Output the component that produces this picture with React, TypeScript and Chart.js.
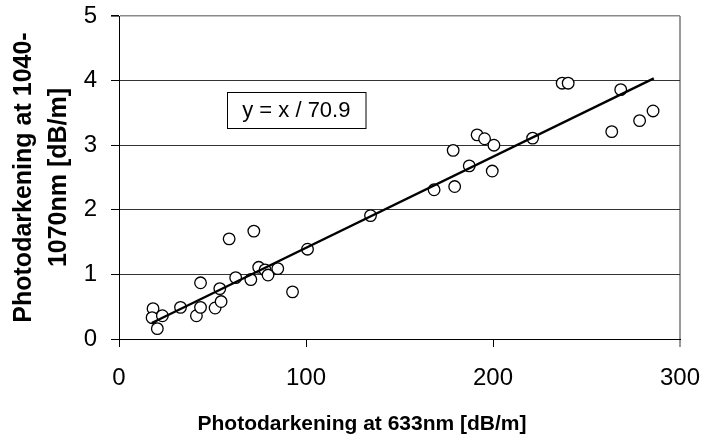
import React, { useEffect, useRef } from "react";
import { Chart, registerables } from "chart.js";

Chart.register(...registerables);

// Measured data: photodarkening at 633nm (x) vs 1040-1070nm (y), dB/m
const xValues = [
  18.2, 17.7, 23.2, 20.5, 32.9, 41.4, 43.6, 43.6, 51.4, 53.9, 54.6, 58.9, 62.4,
  70.5, 72.1, 74.7, 78.1, 79.7, 84.9, 92.8, 100.8, 134.5, 168.5, 179.5, 178.7,
  187.3, 191.5, 195.5, 200.5, 199.6, 221.2, 237.0, 240.2, 263.5, 268.3, 278.4,
  285.6,
];
const yValues = [
  0.47, 0.33, 0.36, 0.16, 0.49, 0.36, 0.87, 0.49, 0.48, 0.78, 0.58, 1.55, 0.95,
  0.92, 1.67, 1.11, 1.07, 0.99, 1.09, 0.73, 1.39, 1.91, 2.31, 2.36, 2.92, 2.68,
  3.16, 3.1, 3.0, 2.6, 3.11, 3.96, 3.96, 3.21, 3.86, 3.38, 3.53,
];
// Trendline endpoints (y = x / 70.9)
const fitX = [17.5, 286];
const fitY = [0.247, 4.034];

const xTicks = [0, 100, 200, 300];
const yTicks = [0, 1, 2, 3, 4, 5];

const xTitle = "Photodarkening at 633nm [dB/m]";
const yTitle = ["Photodarkening at 1040-", "1070nm [dB/m]"];
const equationText = "y = x / 70.9";

const FONT = "'Liberation Sans', Arial, Helvetica, sans-serif";

export default function App() {
  const canvasRef = useRef<HTMLCanvasElement | null>(null);

  useEffect(() => {
    document.body.style.margin = "0";
    const canvas = canvasRef.current;
    if (!canvas) return;

    const overlay = {
      id: "overlay",
      afterDraw(chart: any) {
        const ctx = chart.ctx;
        const xs = chart.scales.x;
        const ys = chart.scales.y;
        ctx.save();
        // equation box
        const bx = xs.getPixelForValue(57.8);
        const by = ys.getPixelForValue(3.82);
        const bw = 138.5;
        const bh = 36;
        ctx.fillStyle = "#ffffff";
        ctx.fillRect(Math.round(bx) + 0.5, Math.round(by) + 0.5, bw, bh);
        ctx.strokeStyle = "#000000";
        ctx.lineWidth = 1;
        ctx.strokeRect(Math.round(bx) + 0.5, Math.round(by) + 0.5, bw, bh);
        ctx.fillStyle = "#000000";
        ctx.font = `22px ${FONT}`;
        ctx.textAlign = "center";
        ctx.textBaseline = "middle";
        ctx.fillText(equationText, bx + bw / 2, by + bh / 2 + 1);
        // x axis title
        ctx.font = `bold 21px ${FONT}`;
        ctx.textAlign = "center";
        ctx.textBaseline = "alphabetic";
        ctx.fillText(xTitle, 362, 430);
        ctx.restore();
      },
    };

    const chart = new Chart(canvas, {
      type: "scatter",
      data: {
        datasets: [
          {
            type: "line",
            label: "fit",
            data: fitX.map((x, i) => ({ x, y: fitY[i] })),
            borderColor: "#000000",
            borderWidth: 2.3,
            pointRadius: 0,
            fill: false,
            order: 0,
          } as any,
          {
            label: "data",
            data: xValues.map((x, i) => ({ x, y: yValues[i] })),
            pointRadius: 5.8,
            pointBorderWidth: 1.3,
            borderColor: "#000000",
            backgroundColor: "#ffffff",
            pointBackgroundColor: "#ffffff",
            pointBorderColor: "#000000",
            order: 1,
          },
        ],
      },
      options: {
        responsive: false,
        animation: false,
        layout: { padding: { top: 16, right: 24, left: 0, bottom: 0 } },
        plugins: {
          legend: { display: false },
          tooltip: { enabled: false },
        },
        scales: {
          x: {
            type: "linear",
            min: 0,
            max: 300,
            afterBuildTicks: (scale: any) => {
              scale.ticks = xTicks.map((v) => ({ value: v }));
            },
            afterFit: (scale: any) => {
              scale.height = 99;
              scale.paddingLeft = 0;
              scale.paddingRight = 0;
            },
            ticks: {
              color: "#000000",
              font: { family: FONT, size: 24 },
              padding: 17,
              maxRotation: 0,
            },
            grid: {
              color: (c: any) =>
                c.tick && c.tick.value === 300 ? "#999999" : "rgba(0,0,0,0)",
              tickColor: (c: any) =>
                c.tick && c.tick.value === 300 ? "#999999" : "#000000",
              lineWidth: (c: any) => (c.tick && c.tick.value === 300 ? 2 : 1),
              tickLength: 8,
            },
            border: { display: true, color: "#000000", width: 1 },
          },
          y: {
            type: "linear",
            min: 0,
            max: 5,
            afterBuildTicks: (scale: any) => {
              scale.ticks = yTicks.map((v) => ({ value: v }));
            },
            afterFit: (scale: any) => {
              scale.width = 119;
              scale.paddingTop = 0;
              scale.paddingBottom = 0;
            },
            ticks: {
              color: "#000000",
              font: { family: FONT, size: 24 },
              padding: 14,
            },
            grid: {
              color: (c: any) =>
                c.tick && c.tick.value === 5 ? "#8a8a8a" : "#333333",
              tickColor: "#000000",
              lineWidth: (c: any) => (c.tick && c.tick.value === 5 ? 1.6 : 1),
              tickLength: 8,
            },
            border: { display: true, color: "#000000", width: 1 },
            title: {
              display: true,
              text: yTitle,
              color: "#000000",
              font: { family: FONT, size: 25, weight: "bold", lineHeight: 1.4 },
              padding: { top: 6.5, bottom: 0 },
            },
          },
        },
      },
      plugins: [overlay],
    } as any);

    return () => {
      chart.destroy();
    };
  }, []);

  return (
    <div style={{ position: "fixed", left: 0, top: 0, width: 704, height: 438, background: "#ffffff" }}>
      <canvas ref={canvasRef} width={704} height={438} />
    </div>
  );
}
